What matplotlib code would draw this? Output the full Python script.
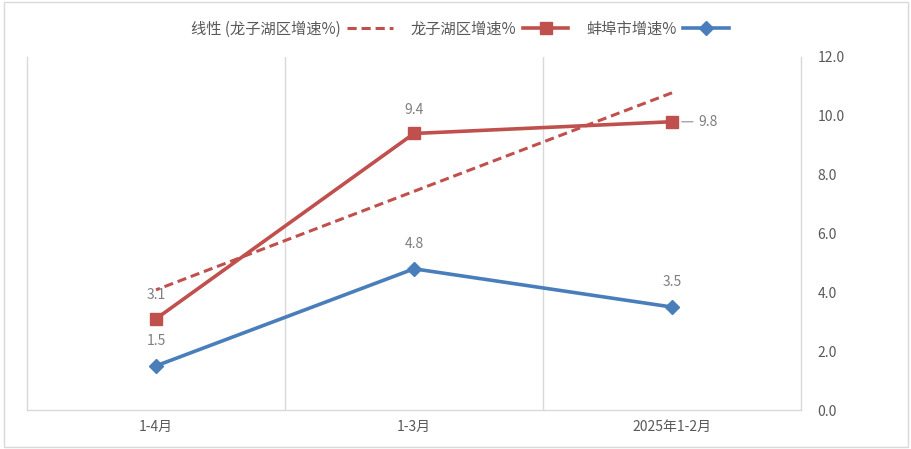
import matplotlib.pyplot as plt
import numpy as np

plt.rcParams['font.family'] = ['Noto Sans CJK SC', 'DejaVu Sans']

# data (order: 2025年1-2月, 1-3月, 1-4月)
categories = ["2025年1-2月", "1-3月", "1-4月"]
bengbu = [3.5, 4.8, 1.5]
longzihu = [9.8, 9.4, 3.1]

blue = "#4a7ebb"
red = "#c0504d"
grid_c = "#d9d9d9"
label_c = "#7f7f7f"
tick_c = "#595959"

fig = plt.figure(figsize=(9.12, 4.49), dpi=100)
ax = fig.add_axes([27 / 912, 39 / 449, 774 / 912, 353 / 449])

x = np.arange(len(categories))

# linear trendline of 龙子湖区 (Excel style, x = 1..n)
k, b = np.polyfit(x + 1, longzihu, 1)
trend = k * (x + 1) + b

ax.plot(x, trend, color=red, lw=2.2, ls=(0, (3, 1.6)), label="线性 (龙子湖区增速%)", zorder=2)
ax.plot(x, longzihu, color=red, lw=2.6, marker="s", ms=9, label="龙子湖区增速%", zorder=3)
ax.plot(x, bengbu, color=blue, lw=2.6, marker="D", ms=7, label="蚌埠市增速%", zorder=3)

# data labels
for xi, v in zip(x, bengbu):
    ax.annotate(f"{v:.1f}", (xi, v), xytext=(0, 13), textcoords="offset points",
                ha="center", va="bottom", fontsize=10, color=label_c)
for xi, v in zip(x, longzihu):
    if xi == 0:
        ax.annotate(f"{v:.1f}", (xi, v), xytext=(26, 0), textcoords="offset points",
                    ha="center", va="center", fontsize=10, color=label_c,
                    arrowprops=dict(arrowstyle="-", color="#a6a6a6", lw=1,
                                    shrinkA=2, shrinkB=7))
    else:
        ax.annotate(f"{v:.1f}", (xi, v), xytext=(0, 12), textcoords="offset points",
                    ha="center", va="bottom", fontsize=10, color=label_c)

ax.set_xlim(2.5, -0.5)
ax.set_ylim(0, 12)
ax.set_xticks(x)
ax.set_xticklabels(categories, fontsize=10, color=tick_c)
ax.set_xticks([0.5, 1.5], minor=True)
ax.grid(True, which="minor", axis="x", color=grid_c, lw=1)
ax.tick_params(axis="x", which="both", length=0, pad=7)

ax.yaxis.tick_right()
ax.set_yticks(np.arange(0, 13, 2))
ax.set_yticklabels([f"{t:.1f}" for t in np.arange(0, 13, 2)], fontsize=10, color=tick_c)
ax.tick_params(axis="y", length=0, pad=12)

for s in ["left", "right", "bottom"]:
    ax.spines[s].set_color(grid_c)
    ax.spines[s].set_linewidth(1)
ax.spines["top"].set_visible(False)

ax.legend(loc="center", bbox_to_anchor=(460 / 912, 420 / 449), bbox_transform=fig.transFigure,
          ncol=3, frameon=False, markerfirst=False, fontsize=11, handlelength=3,
          columnspacing=1.2, handletextpad=0.4, labelcolor=tick_c)

fig.add_artist(plt.Rectangle((0.004, 0.004), 0.992, 0.992, transform=fig.transFigure,
                             fill=False, edgecolor=grid_c, lw=1))

fig.savefig("out.png", dpi=100)
